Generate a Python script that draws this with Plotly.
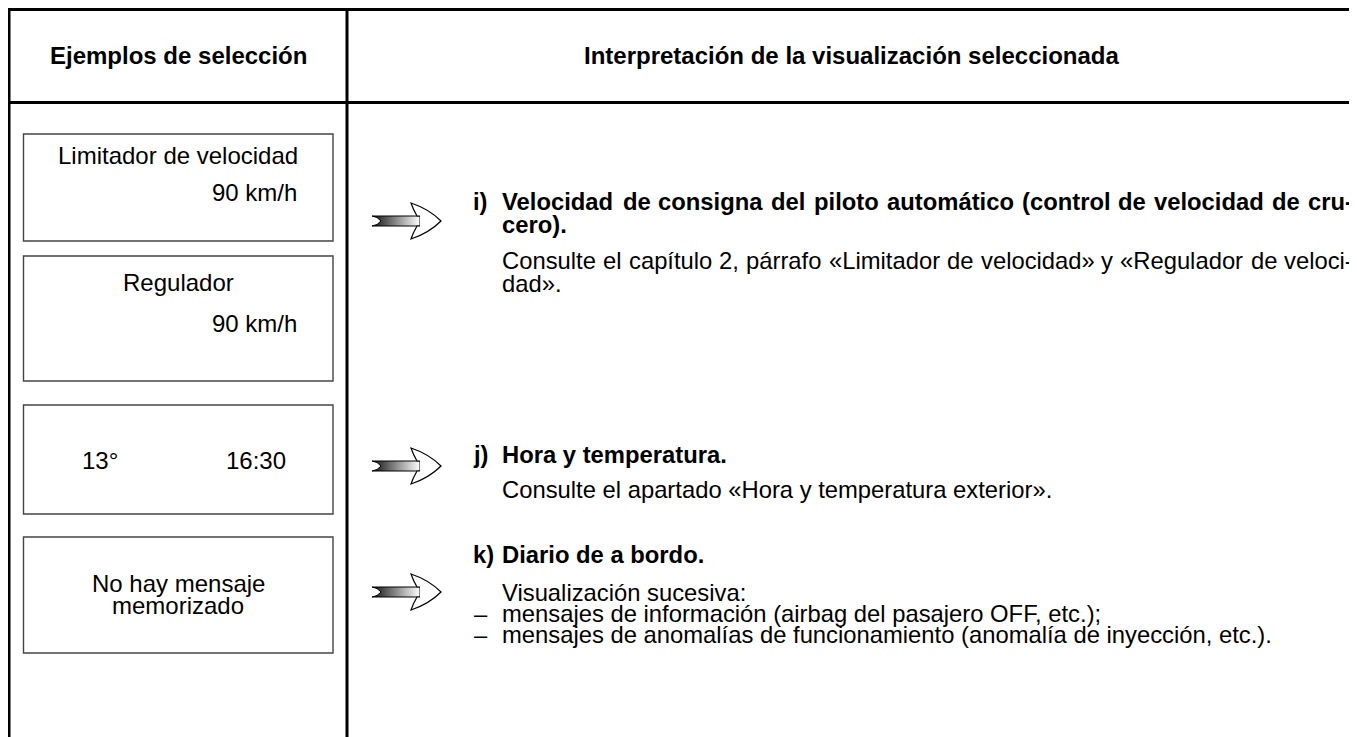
import plotly.graph_objects as go

# ---------------- content ----------------
header_left = "Ejemplos de selección"
header_right = "Interpretación de la visualización seleccionada"

display_top = ["Limitador de velocidad", "Regulador", "", "No hay mensaje"]
display_bottom = ["90 km/h", "90 km/h", "", "memorizado"]
temp_text = "13°"
time_text = "16:30"

section_labels = ["i)", "j)", "k)"]
section_i_title = ["Velocidad de consigna del piloto automático (control de velocidad de cru-", "cero)."]
section_i_body = ["Consulte el capítulo 2, párrafo «Limitador de velocidad» y «Regulador de veloci-", "dad»."]
section_j_title = "Hora y temperatura."
section_j_body = "Consulte el apartado «Hora y temperatura exterior»."
section_k_title = "Diario de a bordo."
section_k_body = "Visualización sucesiva:"
section_k_items = ["mensajes de información (airbag del pasajero OFF, etc.);",
                   "mensajes de anomalías de funcionamiento (anomalía de inyección, etc.)."]

# ---------------- layout constants ----------------
PAGE_W, PAGE_H = 1357, 737
OFF = 8  # default body margin of the page
W, H = PAGE_W - OFF, PAGE_H - OFF
FONT = "Liberation Sans, Arial, Helvetica, sans-serif"
BODY = 23.8
HEAD = 24
BOX = 24
X_LABEL = 473
X_TEXT = 502
X_RIGHT = 1353

REG = {' ': 278, '(': 333, ')': 333, ',': 278, '-': 333, '.': 278, '/': 278, ':': 278, ';': 278,
       'A': 667, 'C': 722, 'D': 722, 'E': 667, 'F': 611, 'H': 722, 'L': 556, 'O': 778, 'R': 722, 'V': 667,
       'a': 556, 'b': 556, 'c': 500, 'd': 556, 'e': 556, 'f': 278, 'g': 556, 'h': 556, 'i': 222, 'j': 222,
       'k': 500, 'l': 222, 'm': 833, 'n': 556, 'o': 556, 'p': 556, 'q': 556, 'r': 333, 's': 500, 't': 278,
       'u': 556, 'v': 500, 'w': 722, 'x': 500, 'y': 500, 'z': 500, '«': 556, '»': 556, 'á': 556, 'é': 556,
       'í': 278, 'ó': 556, 'ú': 556, 'ñ': 556}
BLD = {' ': 278, '(': 333, ')': 333, ',': 278, '-': 333, '.': 278, ':': 333, ';': 333,
       'V': 667, 'H': 722, 'D': 722, 'a': 556, 'b': 611, 'c': 556, 'd': 611, 'e': 556, 'f': 333, 'g': 611,
       'h': 611, 'i': 278, 'j': 278, 'k': 556, 'l': 278, 'm': 889, 'n': 611, 'o': 611, 'p': 611, 'q': 611,
       'r': 389, 's': 556, 't': 333, 'u': 611, 'v': 556, 'w': 778, 'x': 556, 'y': 556, 'z': 500,
       'á': 556, 'é': 556, 'í': 278, 'ó': 611, 'ú': 611}


def tw(s, size, bold):
    tab = BLD if bold else REG
    return sum(tab.get(c, 556) for c in s) / 1000.0 * size


ann = []


def text(x, y, s, size=BODY, bold=False, anchor="left"):
    ann.append(dict(x=x, y=y, xref="x", yref="y", text=("<b>%s</b>" % s) if bold else s,
                    showarrow=False, xanchor=anchor, yanchor="middle",
                    font=dict(family=FONT, size=size, color="#000000"), borderpad=0, borderwidth=0))


def justified(line, x0, x1, y, size=BODY, bold=False):
    words = line.split(" ")
    total = sum(tw(w, size, bold) for w in words)
    gap = (x1 - x0 - total) / (len(words) - 1)
    x = x0
    for w in words:
        text(x, y, w, size, bold)
        x += tw(w, size, bold) + gap


# headers
text(178, 55, header_left, HEAD, True, "center")
text(852, 55, header_right, HEAD, True, "center")

# display boxes
box_y = [(134, 241), (256, 381), (405, 514), (537, 653)]
shapes = []
for (y0, y1) in box_y:
    shapes.append(dict(type="rect", x0=23.5, x1=333, y0=y0, y1=y1, xref="x", yref="y",
                       line=dict(color="#444444", width=1.4), fillcolor="rgba(0,0,0,0)"))

text(178, 155, display_top[0], BOX, False, "center")
text(297, 192, display_bottom[0], BOX, False, "right")
text(178, 282, display_top[1], BOX, False, "center")
text(297, 323, display_bottom[1], BOX, False, "right")
text(100, 460, temp_text, BOX, False, "center")
text(256, 460, time_text, BOX, False, "center")
text(178, 583, display_top[3], BOX, False, "center")
text(178, 605, display_bottom[3], BOX, False, "center")

# section i
text(X_LABEL, 201, section_labels[0], BODY, True)
justified(section_i_title[0], X_TEXT, X_RIGHT, 201, BODY, True)
text(X_TEXT, 224.5, section_i_title[1], BODY, True)
justified(section_i_body[0], X_TEXT, X_RIGHT, 260, BODY, False)
text(X_TEXT, 283, section_i_body[1], BODY, False)

# section j
text(X_LABEL, 454, section_labels[1], BODY, True)
text(X_TEXT, 454, section_j_title, BODY, True)
text(X_TEXT, 489, section_j_body, BODY, False)

# section k
text(X_LABEL, 554, section_labels[2], BODY, True)
text(X_TEXT, 554, section_k_title, BODY, True)
text(X_TEXT, 592, section_k_body, BODY, False)
for i, item in enumerate(section_k_items):
    yy = 613 + 21 * i
    text(X_LABEL + 1, yy, "–", BODY, False)
    text(X_TEXT, yy, item, BODY, False)

# frame lines
for (x0, y0, x1, y1) in [(7.5, 9.5, PAGE_W, 9.5), (7.5, 102.5, PAGE_W, 102.5),
                         (9, 8, 9, PAGE_H), (347, 8, 347, PAGE_H)]:
    shapes.append(dict(type="line", x0=x0, y0=y0, x1=x1, y1=y1, xref="x", yref="y",
                       line=dict(color="#000000", width=3)))

fig = go.Figure()

# arrows
arrow_y = [221, 466, 592]
for cy in arrow_y:
    xs = [372, 420, 420, 372, 377, 381, 377, 372]
    ys = [cy - 5, cy - 5, cy + 5, cy + 5, cy + 3.5, cy, cy - 3.5, cy - 5]
    fig.add_trace(go.Scatter(x=xs, y=ys, mode="lines", fill="toself",
                             line=dict(color="#000000", width=1),
                             fillgradient=dict(type="horizontal",
                                               colorscale=[[0, "#111111"], [0.5, "#8a8a8a"], [1, "#ffffff"]]),
                             hoverinfo="skip", showlegend=False))
    path = ("M 420 %s L 417 %s Q 413 %s 411 %s Q 429 %s 441 %s Q 429 %s 411 %s Q 413 %s 417 %s L 420 %s"
            % (cy - 5, cy - 5, cy - 12, cy - 18, cy - 12, cy, cy + 12, cy + 18, cy + 12, cy + 5, cy + 5))
    shapes.append(dict(type="path", path=path, xref="x", yref="y",
                       line=dict(color="#000000", width=1.2), fillcolor="#ffffff"))

fig.update_layout(
    width=W, height=H, margin=dict(l=0, r=0, t=0, b=0),
    paper_bgcolor="#ffffff", plot_bgcolor="#ffffff",
    xaxis=dict(range=[OFF, PAGE_W], visible=False, fixedrange=True),
    yaxis=dict(range=[PAGE_H, OFF], visible=False, fixedrange=True),
    shapes=shapes, annotations=ann, showlegend=False,
)
fig.write_html("out.html")
